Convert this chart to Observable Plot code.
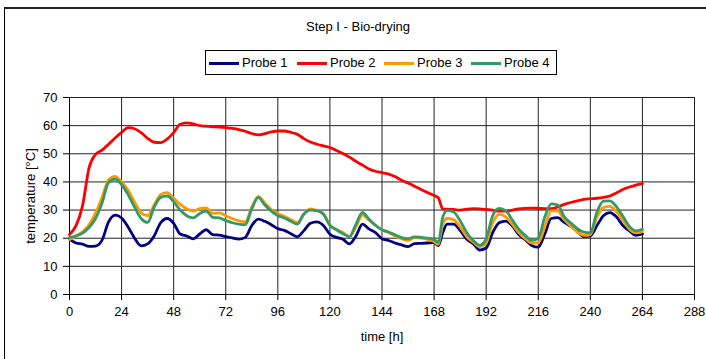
<!DOCTYPE html>
<html>
<head>
<meta charset="utf-8">
<script src="https://cdn.jsdelivr.net/npm/d3@7"></script>
<script src="https://cdn.jsdelivr.net/npm/@observablehq/plot@0.6"></script>
<style>
  html, body { margin: 0; padding: 0; background: #fff; overflow: hidden; width: 706px; height: 359px; }
  #wrap { position: relative; width: 706px; height: 359px; font-family: "Liberation Sans", Arial, sans-serif; color: #000; }
  #frame { position: absolute; left: 4px; top: 7px; width: 800px; height: 400px; border-left: 1px solid #000; border-top: 2px solid #222; box-sizing: border-box; }
  #title { position: absolute; left: 0; width: 716px; top: 19px; text-align: center; font-size: 13px; }
  #legend { position: absolute; left: 205px; top: 50px; width: 352px; height: 25px; border: 1px solid #000; box-sizing: border-box; background: #fff; }
  .sw { position: absolute; top: 11px; width: 30px; height: 3px; }
  .lt { position: absolute; top: 4px; font-size: 13px; white-space: nowrap; }
  #chart { position: absolute; left: 0; top: 0; }
</style>
</head>
<body>
<div id="wrap">
  <div id="frame"></div>
  <div id="chart"></div>
  <div id="title"></div>
  <div id="legend"></div>
</div>
<script>
// ---- data ----
const chartTitle = "Step I - Bio-drying";
const xLabel = "time [h]";
const yLabel = "temperature [°C]";
const seriesNames = ["Probe 1", "Probe 2", "Probe 3", "Probe 4"];
const seriesColors = ["#000080", "#FF0000", "#FF9900", "#339966"];
const xTicks = [0, 24, 48, 72, 96, 120, 144, 168, 192, 216, 240, 264, 288];
const yTicks = [0, 10, 20, 30, 40, 50, 60, 70];

const hours = [0,3,6,9,12,15,18,21,24,27,30,33,36,39,42,45,48,51,54,57,60,63,66,69,72,75,78,81,84,87,90,93,96,99,102,105,108,111,114,117,120,123,126,129,132,135,138,141,144,147,150,153,156,159,162,165,168,170,172,174,177,180,183,186,189,192,195,198,201,204,207,210,213,216,219,222,225,228,231,234,237,240,243,246,249,252,255,258,261,264];

const probe1 = [19.7,18.3,17.9,17.1,17.2,19.3,25.8,28.2,27.2,24.0,20.0,17.3,18.0,20.8,25.5,27.0,25.3,21.5,20.8,19.8,21.5,23.0,21.3,21.1,20.6,20.1,19.7,20.3,24.5,26.8,26.0,24.8,23.4,22.8,21.6,20.5,22.7,25.3,25.8,24.5,21.4,20.3,19.6,18.0,20.8,25.0,23.3,22.0,19.8,19.2,18.3,17.6,17.0,18.1,18.2,18.3,18.4,17.4,22.0,25.0,25.0,22.8,19.7,18.1,15.8,16.5,22.0,25.5,26.1,24.4,21.3,19.5,17.4,16.8,21.5,27.0,27.3,25.6,24.2,22.4,20.6,20.8,24.4,28.0,29.1,27.6,24.5,22.6,21.0,21.5];

const probe2 = [21.3,24.5,31.5,45.0,49.8,51.3,53.4,55.6,57.6,59.3,58.9,57.5,55.5,54.1,54.0,55.2,57.5,60.5,61.0,60.6,60.0,59.8,59.6,59.5,59.3,59.0,58.6,58.0,57.2,56.7,57.2,57.8,58.1,58.1,57.6,56.9,55.4,54.2,53.4,52.8,52.2,51.2,50.1,48.8,47.3,46.0,44.6,43.8,43.3,42.8,41.9,40.6,39.6,38.5,37.3,36.2,35.2,34.3,30.4,30.3,30.2,30.0,30.3,30.5,30.4,30.2,30.0,29.6,29.6,30.0,30.4,30.6,30.7,30.6,30.5,30.5,31.1,32.0,32.7,33.3,33.8,34.0,34.2,34.5,35.0,36.1,37.3,38.2,38.9,39.4];

const probe3 = [19.5,20.8,22.3,24.8,29.0,34.5,40.8,42.0,40.0,37.0,32.8,29.0,28.0,31.8,35.5,36.2,34.2,32.0,30.5,29.6,30.5,30.8,28.8,29.0,28.0,27.0,26.2,25.8,31.0,34.8,32.5,30.2,28.8,27.8,26.6,25.6,28.6,30.4,29.8,28.6,24.6,23.2,22.0,20.6,24.0,28.3,26.4,24.6,23.0,22.0,20.8,19.8,19.2,20.2,20.0,19.6,18.8,17.8,25.0,27.0,26.6,24.0,20.6,18.6,17.0,18.3,25.5,28.5,27.6,25.0,22.0,19.8,18.3,18.4,24.0,29.8,29.6,26.6,24.3,22.2,21.0,21.3,27.4,30.9,31.3,29.5,26.4,23.2,21.9,22.3];

const probe4 = [20.3,20.8,21.8,23.8,27.0,32.5,39.8,41.0,39.0,35.5,31.0,27.0,25.6,31.0,34.5,35.0,33.0,30.0,28.0,27.2,28.8,29.6,27.4,27.2,26.3,25.5,25.0,24.8,30.5,34.5,31.8,29.6,28.0,27.2,26.0,25.0,28.6,30.0,29.8,28.6,24.6,23.0,21.6,20.6,25.0,29.2,26.8,24.6,23.0,22.2,21.2,20.2,19.8,20.5,20.3,20.0,19.5,18.6,27.5,29.8,29.3,26.2,22.0,19.2,17.5,19.8,28.0,30.6,29.8,26.5,23.2,21.0,19.2,20.0,27.5,32.2,31.8,27.6,25.4,23.4,22.2,22.0,29.2,33.2,33.3,31.2,27.8,24.2,22.6,23.2];

// ---- build ----
const allSeries = [probe1, probe2, probe3, probe4];
const rows = (vals) => hours.map((h, i) => ({h, v: vals[i]}));

const lineMarks = allSeries.map((vals, k) =>
  Plot.line(rows(vals), {x: "h", y: "v", stroke: seriesColors[k], strokeWidth: 2.8, curve: "monotone-x", strokeLinejoin: "round"})
);

const chart = Plot.plot({
  width: 706,
  height: 359,
  marginLeft: 69,
  marginRight: 12,
  marginTop: 97,
  marginBottom: 65,
  style: {fontFamily: "'Liberation Sans', Arial, sans-serif", fontSize: "13px", background: "transparent", color: "#000", overflow: "visible"},
  x: {domain: [0, 288], label: null},
  y: {domain: [0, 70], label: null},
  marks: [
    Plot.gridY(yTicks, {stroke: "#222", strokeOpacity: 1, strokeWidth: 1}),
    Plot.gridX(xTicks, {stroke: "#222", strokeOpacity: 1, strokeWidth: 1}),
    Plot.axisX(xTicks, {tickSize: 6, tickPadding: 6, label: null, fontSize: 13}),
    Plot.axisY(yTicks, {tickSize: 6, tickPadding: 6, label: null, fontSize: 13}),
    Plot.ruleY([0], {stroke: "#000"}),
    Plot.ruleX([0], {stroke: "#000"}),
    ...lineMarks,
    Plot.text([xLabel], {frameAnchor: "bottom", dy: 46, fontSize: 13}),
    Plot.text([yLabel], {frameAnchor: "left", dx: -39, rotate: -90, textAnchor: "middle", fontSize: 13})
  ]
});
document.getElementById("chart").appendChild(chart);

document.getElementById("title").textContent = chartTitle;

const legend = document.getElementById("legend");
const swLeft = [3, 91, 178, 265];
const txtLeft = [36, 124, 211, 298];
seriesNames.forEach((name, k) => {
  const sw = document.createElement("div");
  sw.className = "sw";
  sw.style.left = swLeft[k] + "px";
  sw.style.background = seriesColors[k];
  legend.appendChild(sw);
  const t = document.createElement("div");
  t.className = "lt";
  t.style.left = txtLeft[k] + "px";
  t.textContent = name;
  legend.appendChild(t);
});
</script>
</body>
</html>
